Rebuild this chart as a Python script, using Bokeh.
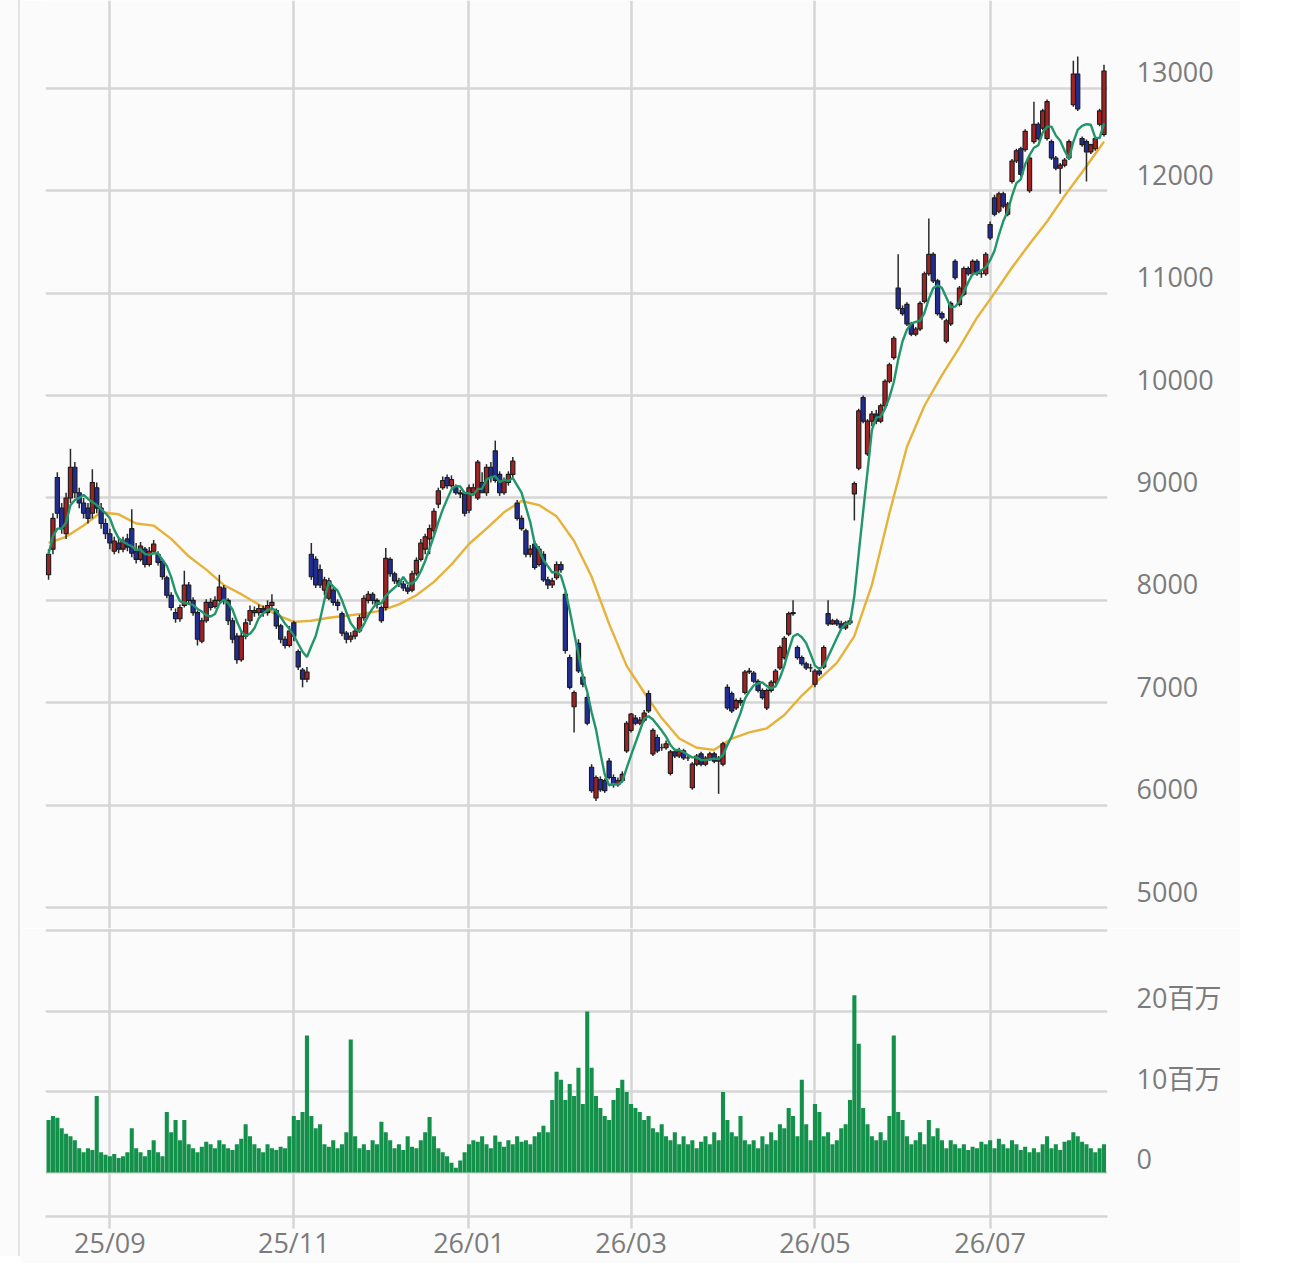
import numpy as np
import pandas as pd
from bokeh.plotting import figure
from bokeh.models import FixedTicker, Range1d, ColumnDataSource, Div
from bokeh.layouts import column, row
from bokeh.embed import file_html
from bokeh.resources import INLINE

# ---------------- data ----------------
# Japanese market holidays (weekdays) inside the window
holidays = ["2025-09-15", "2025-09-23", "2025-10-13", "2025-11-03", "2025-11-24",
            "2025-12-31", "2026-01-01", "2026-01-02", "2026-01-12", "2026-02-11",
            "2026-02-23", "2026-03-20", "2026-04-29", "2026-05-04", "2026-05-05",
            "2026-05-06", "2026-07-20"]
first_day = "2025-08-12"
last_day = "2026-08-07"

# OHLC rows: open, high, low, close
ohlc = [
    (8250, 8500, 8200, 8450), (8500, 8850, 8450, 8800), (9200, 9250, 8800, 8850), (8900, 8950, 8650, 8700),
    (8650, 9050, 8600, 9000), (9000, 9480, 8950, 9300), (9300, 9350, 9000, 9050), (9050, 9100, 8900, 8950),
    (8950, 9000, 8800, 8850), (8900, 8950, 8750, 8800), (8850, 9280, 8800, 9150), (9100, 9150, 8850, 8900),
    (8900, 8950, 8700, 8750), (8750, 8800, 8600, 8650), (8650, 8700, 8500, 8560), (8480, 8620, 8450, 8580),
    (8560, 8600, 8460, 8500), (8500, 8620, 8470, 8580), (8600, 8650, 8480, 8520), (8700, 8890, 8420, 8460),
    (8480, 8560, 8360, 8400), (8400, 8570, 8380, 8530), (8500, 8520, 8320, 8350), (8350, 8520, 8330, 8480),
    (8480, 8590, 8450, 8550), (8450, 8480, 8340, 8370), (8380, 8400, 8200, 8230), (8220, 8240, 8020, 8050),
    (8050, 8080, 7900, 7930), (7880, 7920, 7780, 7820), (7820, 7960, 7790, 7930), (7950, 8290, 7930, 8150),
    (8150, 8180, 7970, 8000), (8000, 8030, 7850, 7880), (7880, 7900, 7560, 7620), (7600, 7830, 7580, 7800),
    (7800, 8010, 7780, 7980), (7980, 8020, 7900, 7930), (7940, 8040, 7920, 8000), (8000, 8250, 7980, 8130),
    (8120, 8150, 7960, 8000), (8000, 8020, 7760, 7800), (7800, 7830, 7580, 7620), (7650, 7680, 7380, 7420),
    (7420, 7700, 7400, 7650), (7650, 7820, 7620, 7780), (7800, 7950, 7760, 7900), (7900, 7940, 7840, 7880),
    (7880, 7960, 7850, 7920), (7920, 7950, 7840, 7880), (7880, 8000, 7850, 7950), (7950, 8060, 7900, 7980),
    (7900, 7920, 7720, 7750), (7750, 7770, 7580, 7620), (7620, 7650, 7530, 7560), (7560, 7750, 7540, 7700),
    (7780, 7800, 7600, 7650), (7500, 7520, 7320, 7350), (7320, 7340, 7150, 7230), (7230, 7350, 7200, 7300),
    (8450, 8560, 8200, 8230), (8400, 8430, 8120, 8150), (8300, 8350, 8120, 8150), (8100, 8230, 8050, 8200),
    (8020, 8220, 8000, 8190), (8100, 8120, 7950, 7980), (7980, 8010, 7900, 7950), (7870, 7890, 7650, 7680),
    (7680, 7700, 7580, 7620), (7620, 7690, 7590, 7650), (7650, 7730, 7620, 7700), (7700, 7860, 7680, 7830),
    (7830, 8050, 7800, 8020), (8000, 8090, 7970, 8060), (8060, 8080, 7960, 8000), (8000, 8020, 7920, 7960),
    (7930, 7950, 7780, 7800), (7930, 8510, 7900, 8410), (8400, 8420, 8230, 8260), (8260, 8280, 8160, 8190),
    (8190, 8220, 8130, 8160), (8160, 8190, 8090, 8120), (8120, 8150, 8060, 8090), (8100, 8290, 8080, 8260),
    (8260, 8420, 8240, 8390), (8400, 8600, 8380, 8560), (8500, 8650, 8450, 8620), (8600, 8740, 8450, 8700),
    (8680, 8900, 8650, 8870), (8940, 9100, 8900, 9070), (9100, 9210, 9080, 9170), (9200, 9230, 9090, 9120),
    (9120, 9220, 9100, 9180), (9100, 9130, 9030, 9050), (9050, 9080, 9000, 9040), (9040, 9060, 8820, 8850),
    (8880, 9130, 8850, 9100), (9050, 9140, 9020, 9100), (9000, 9370, 8980, 9350), (9150, 9250, 9050, 9050),
    (9050, 9330, 9020, 9300), (9300, 9350, 9150, 9200), (9460, 9560, 9150, 9170), (9230, 9260, 9020, 9050),
    (9050, 9200, 9030, 9170), (9150, 9260, 9120, 9230), (9230, 9400, 9200, 9360), (8950, 8980, 8780, 8800),
    (8800, 8830, 8680, 8700), (8680, 8700, 8420, 8450), (8450, 8540, 8420, 8500), (8550, 8580, 8300, 8320),
    (8350, 8530, 8330, 8500), (8450, 8480, 8180, 8200), (8200, 8230, 8110, 8150), (8150, 8220, 8120, 8190),
    (8220, 8380, 8200, 8350), (8350, 8380, 8270, 8300), (8060, 8080, 7480, 7510), (7440, 7470, 7130, 7150),
    (6960, 7120, 6710, 7100), (7580, 7620, 7290, 7310), (7250, 7280, 7150, 7180), (7050, 7080, 6780, 6800),
    (6370, 6400, 6120, 6140), (6070, 6290, 6040, 6270), (6250, 6280, 6130, 6150), (6240, 6260, 6120, 6140),
    (6430, 6460, 6250, 6270), (6270, 6300, 6170, 6200), (6200, 6270, 6180, 6240), (6240, 6330, 6220, 6300),
    (6530, 6820, 6510, 6800), (6730, 6900, 6710, 6890), (6850, 6880, 6780, 6800), (6800, 6860, 6780, 6830),
    (6830, 6930, 6810, 6900), (7090, 7120, 6900, 6920), (6500, 6750, 6480, 6730), (6660, 6690, 6510, 6530),
    (6560, 6600, 6530, 6560), (6560, 6630, 6540, 6600), (6310, 6540, 6290, 6520), (6520, 6550, 6460, 6480),
    (6480, 6560, 6460, 6530), (6530, 6550, 6440, 6460), (6460, 6500, 6430, 6460), (6170, 6420, 6150, 6400),
    (6400, 6500, 6380, 6480), (6500, 6520, 6380, 6400), (6400, 6480, 6380, 6460), (6450, 6520, 6430, 6500),
    (6500, 6520, 6410, 6430), (6430, 6480, 6110, 6460), (6400, 6620, 6380, 6600), (7150, 7180, 6930, 6950),
    (7090, 7110, 6900, 6920), (6950, 7040, 6930, 7020), (7020, 7050, 6970, 7000), (7100, 7320, 7080, 7300),
    (7300, 7340, 7280, 7310), (7290, 7310, 7190, 7210), (7210, 7230, 7100, 7120), (7120, 7140, 7030, 7050),
    (6950, 7140, 6930, 7120), (7120, 7220, 7100, 7200), (7200, 7330, 7180, 7310), (7340, 7560, 7320, 7540),
    (7440, 7650, 7420, 7630), (7670, 7890, 7650, 7870), (7870, 8000, 7850, 7880), (7540, 7560, 7420, 7440),
    (7440, 7460, 7360, 7380), (7380, 7400, 7320, 7340), (7340, 7380, 7300, 7340), (7180, 7330, 7150, 7310),
    (7310, 7330, 7260, 7280), (7350, 7560, 7330, 7540), (7870, 8000, 7750, 7770), (7770, 7820, 7760, 7800),
    (7800, 7820, 7750, 7770), (7770, 7800, 7710, 7730), (7730, 7800, 7710, 7780), (7780, 7830, 7760, 7800),
    (9040, 9160, 8780, 9140), (9290, 9870, 9270, 9850), (9980, 10000, 9730, 9750), (9430, 9770, 9410, 9750),
    (9750, 9850, 9700, 9820), (9820, 9860, 9720, 9750), (9750, 9920, 9730, 9900), (9900, 10160, 9880, 10140),
    (10140, 10320, 10120, 10300), (10370, 10580, 10350, 10560), (11050, 11380, 10830, 10850), (10850, 10880, 10780, 10800),
    (10890, 10910, 10680, 10700), (10700, 10720, 10580, 10600), (10600, 10670, 10580, 10650), (10650, 10920, 10630, 10900),
    (10920, 11210, 10900, 11190), (11190, 11730, 11170, 11380), (11380, 11400, 11100, 11120), (11120, 11140, 10780, 10800),
    (10800, 10820, 10740, 10760), (10530, 10750, 10510, 10730), (10700, 10920, 10680, 10900), (11310, 11330, 11130, 11150),
    (10890, 11070, 10870, 11050), (10990, 11260, 10970, 11240), (11240, 11260, 11170, 11190), (11190, 11330, 11170, 11310),
    (11310, 11330, 11170, 11190), (11190, 11230, 11150, 11190), (11190, 11400, 11170, 11380), (11670, 11700, 11520, 11540),
    (11930, 11960, 11750, 11770), (11800, 11990, 11780, 11970), (11970, 11990, 11830, 11850), (11770, 11890, 11750, 11870),
    (12090, 12310, 12070, 12290), (12290, 12410, 12270, 12390), (12410, 12430, 12140, 12160), (12400, 12600, 12380, 12580),
    (12000, 12340, 11980, 12320), (12480, 12870, 12460, 12650), (12650, 12670, 12490, 12510), (12610, 12800, 12590, 12780),
    (12510, 12890, 12490, 12870), (12480, 12500, 12300, 12320), (12320, 12340, 12200, 12220), (12220, 12270, 11970, 12250),
    (12250, 12320, 12230, 12300), (12320, 12500, 12300, 12480), (12840, 13270, 12820, 13140), (13140, 13310, 12780, 12800),
    (12510, 12530, 12430, 12450), (12480, 12500, 12090, 12380), (12380, 12460, 12360, 12450), (12410, 12530, 12390, 12510),
    (12650, 12800, 12630, 12780), (12550, 13230, 12530, 13170),
]
open_ = [r[0] for r in ohlc]
high = [r[1] for r in ohlc]
low = [r[2] for r in ohlc]
close = [r[3] for r in ohlc]

# volume in 百万 (millions of shares)
volume = [
    6.5, 7.0, 6.8, 5.5, 4.8, 4.5, 4.0, 3.0, 2.5, 3.0,
    2.8, 9.5, 2.5, 2.2, 2.0, 2.3, 1.8, 2.0, 2.5, 5.5,
    3.0, 2.5, 2.0, 2.8, 4.0, 2.5, 2.0, 7.5, 5.0, 6.5,
    4.0, 6.5, 3.5, 3.0, 2.5, 3.2, 3.8, 3.5, 3.0, 4.0,
    3.5, 3.0, 2.8, 3.5, 4.2, 6.0, 4.5, 3.5, 3.0, 2.5,
    3.5, 3.0, 2.8, 3.2, 3.0, 4.5, 7.0, 6.5, 7.5, 17.0,
    7.0, 5.5, 6.0, 3.5, 3.2, 4.0, 3.0, 3.5, 5.0, 16.5,
    4.5, 3.0, 3.5, 2.8, 4.0, 3.5, 6.3, 5.0, 4.0, 3.0,
    3.5, 2.8, 4.5, 3.2, 3.0, 4.0, 5.0, 6.9, 4.5, 3.0,
    2.5, 2.0, 1.2, 0.6, 1.5, 2.5, 3.5, 4.0, 3.8, 4.5,
    3.5, 3.0, 4.6, 3.8, 3.2, 4.0, 3.5, 4.5, 3.8, 4.0,
    3.5, 4.5, 5.0, 5.8, 5.0, 9.0, 12.5, 11.5, 9.0, 11.0,
    9.5, 13.0, 8.5, 20.0, 13.0, 9.5, 8.0, 7.0, 6.5, 9.0,
    10.5, 11.5, 10.0, 8.5, 8.0, 7.5, 6.5, 7.0, 5.5, 5.0,
    6.0, 4.5, 4.0, 5.0, 3.5, 4.5, 3.5, 4.0, 3.0, 3.8,
    4.5, 3.5, 5.0, 4.0, 10.0, 6.5, 5.0, 4.5, 7.0, 4.0,
    3.5, 4.0, 3.0, 4.5, 3.5, 5.0, 4.0, 6.0, 5.5, 8.0,
    7.0, 4.5, 11.5, 6.0, 4.0, 8.5, 7.5, 4.5, 5.0, 3.5,
    4.0, 5.5, 6.0, 9.0, 22.0, 16.0, 8.0, 6.0, 4.5, 4.0,
    5.0, 4.0, 7.0, 17.0, 7.5, 6.5, 4.5, 3.5, 4.0, 5.0,
    3.5, 6.5, 4.5, 5.5, 4.0, 3.0, 4.0, 3.5, 3.0, 3.5,
    2.8, 3.2, 3.0, 3.8, 3.5, 4.0, 3.0, 4.2, 3.5, 3.0,
    4.0, 3.5, 2.8, 3.2, 2.5, 3.0, 2.5, 3.5, 4.5, 3.0,
    3.5, 2.8, 3.8, 4.0, 5.0, 4.5, 3.8, 3.5, 3.0, 2.5,
    3.0, 3.5,
]

# 25-day moving average, every 4th trading day (+ last day)
ma25_step = 4
ma25 = [8560, 8620, 8730, 8860, 8840, 8750, 8730, 8600, 8430, 8300,
        8150, 8060, 7960, 7860, 7790, 7800, 7830, 7850, 7870, 7900,
        7960, 8050, 8180, 8350, 8550, 8700, 8860, 8970, 8930, 8820,
        8580, 8230, 7770, 7360, 7100, 6850, 6650, 6560, 6540, 6650,
        6710, 6750, 6880, 7070, 7230, 7390, 7650, 8150, 8850, 9500,
        9900, 10200, 10470, 10760, 11000, 11250, 11480, 11700, 11950, 12180,
        12420, 12480]

price_ticks = [5000, 6000, 7000, 8000, 9000, 10000, 11000, 12000, 13000]
vol_ticks = [0, 10, 20]
vol_tick_labels = ["0", "10百万", "20百万"]
month_labels = ["25/09", "25/11", "26/01", "26/03", "26/05", "26/07"]

# ---------------- derived ----------------
n = len(close)
dates = [d for d in pd.bdate_range(first_day, last_day) if d.strftime("%Y-%m-%d") not in holidays][:n]
xs = np.arange(n)
month_pos = {}
for i, d in enumerate(dates):
    key = d.strftime("%y/%m")
    if key not in month_pos:
        month_pos[key] = i
tick_pos = [month_pos[m] for m in month_labels]

ma5 = pd.Series(close, dtype=float).rolling(5, min_periods=1).mean().tolist()
ma25_x = list(range(0, n, ma25_step))
if ma25_x[-1] != n - 1:
    ma25_x.append(n - 1)
ma25_x = ma25_x[:len(ma25)]

UP = "#a02222"
DOWN = "#1f2d94"
src = ColumnDataSource(dict(
    x=xs, open=open_, high=high, low=low, close=close,
    top=[max(o, c) for o, c in zip(open_, close)],
    bottom=[min(o, c) for o, c in zip(open_, close)],
    color=[UP if c >= o else DOWN for o, c in zip(open_, close)],
))
vsrc = ColumnDataSource(dict(x=xs, vol=volume))

# ---------------- styling ----------------
FONT = "'Open Sans', 'Noto Sans CJK JP', sans-serif"
GRID = "#d6d6d6"
LABEL = "#7b7b7b"
BG = "#fbfbfb"
FRAME_W = 1062
x_range = Range1d(-0.7, n - 0.2)
PRICE_LIFT = 156   # label sits above its grid line
VOL_LIFT = 1.7

p = figure(frame_width=FRAME_W, frame_height=928, x_range=x_range,
           y_range=Range1d(4795, 13858), output_backend="svg", toolbar_location=None,
           x_axis_location=None, y_axis_location="right",
           min_border_left=25, min_border_right=133, min_border_top=0, min_border_bottom=0)
p.background_fill_color = BG
p.border_fill_color = BG
p.outline_line_color = None
p.xgrid.ticker = FixedTicker(ticks=tick_pos)
p.ygrid.ticker = FixedTicker(ticks=price_ticks)
for g in (p.xgrid, p.ygrid):
    g.grid_line_color = GRID
    g.grid_line_width = 2.5
ya = p.yaxis[0]
ya.ticker = FixedTicker(ticks=[t + PRICE_LIFT for t in price_ticks])
ya.major_label_overrides = {t + PRICE_LIFT: str(t) for t in price_ticks}
ya.axis_line_color = None
ya.major_tick_line_color = None
ya.minor_tick_line_color = None
ya.major_label_standoff = 23
ya.major_label_text_font = FONT
ya.major_label_text_font_size = "27px"
ya.major_label_text_color = LABEL

p.line(ma25_x, ma25, line_color="#e6b23a", line_width=2.4)
p.segment(x0="x", y0="high", x1="x", y1="low", source=src, line_color="#2a2a2a", line_width=1.5)
p.vbar(x="x", width=0.96, top="top", bottom="bottom", source=src,
       fill_color="color", line_color="#1b1b1b", line_width=1.1)
p.line(xs, ma5, line_color="#20966a", line_width=2.4)

v = figure(frame_width=FRAME_W, frame_height=288, x_range=x_range,
           y_range=Range1d(-5.47, 30.3), output_backend="svg", toolbar_location=None,
           y_axis_location="right",
           min_border_left=25, min_border_right=133, min_border_top=0)
v.background_fill_color = BG
v.border_fill_color = BG
v.outline_line_color = None
v.ygrid.ticker = FixedTicker(ticks=vol_ticks + [30])
for g in (v.xgrid, v.ygrid):
    g.grid_line_color = GRID
    g.grid_line_width = 2.5
vy = v.yaxis[0]
vy.ticker = FixedTicker(ticks=[t + VOL_LIFT for t in vol_ticks])
vy.major_label_overrides = {t + VOL_LIFT: lab for t, lab in zip(vol_ticks, vol_tick_labels)}
vy.axis_line_color = None
vy.major_tick_line_color = None
vy.minor_tick_line_color = None
vy.major_label_standoff = 23
vy.major_label_text_font = FONT
vy.major_label_text_font_size = "27px"
vy.major_label_text_color = LABEL
vx = v.xaxis[0]
vx.ticker = FixedTicker(ticks=tick_pos)
vx.major_label_overrides = {pos: lab for pos, lab in zip(tick_pos, month_labels)}
vx.axis_line_color = GRID
vx.axis_line_width = 2.5
vx.major_tick_line_color = GRID
vx.major_tick_line_width = 2.5
vx.major_tick_out = 12
vx.major_tick_in = 0
vx.minor_tick_line_color = None
vx.major_label_standoff = -5
vx.major_label_text_font = FONT
vx.major_label_text_font_size = "27px"
vx.major_label_text_color = LABEL

v.vbar(x="x", width=0.93, top="vol", bottom=0, source=vsrc,
       fill_color="#13904a", line_color=None)

edge = Div(text="", width=20, height=1256, margin=0,
           styles={"border-right": "2px solid #e2e2e2", "box-sizing": "border-box",
                   "background": BG})
layout = row(edge, column(p, v, spacing=0), spacing=0)

open("out.html", "w").write(file_html(layout, INLINE))
